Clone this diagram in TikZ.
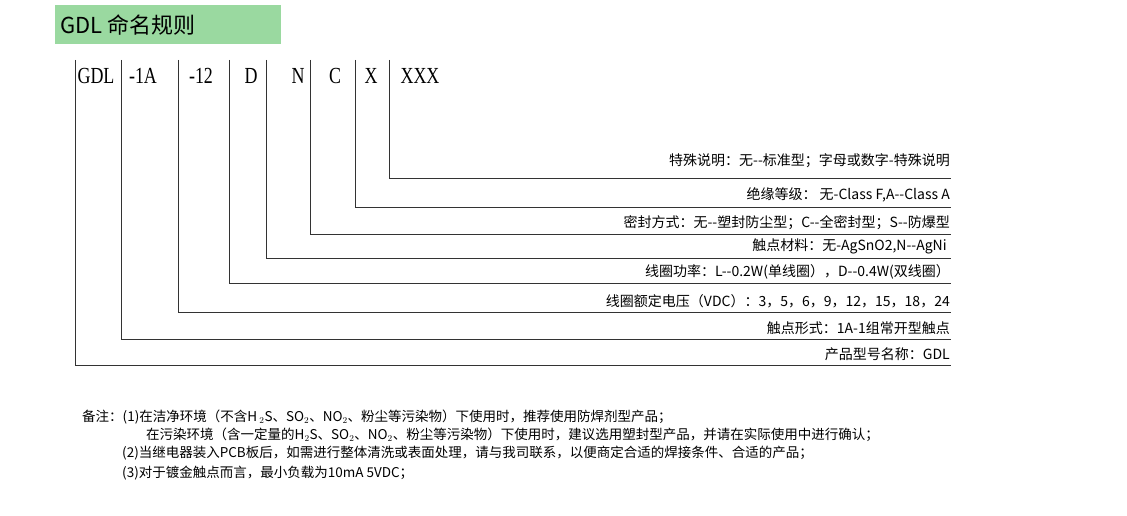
\documentclass[tikz,border=0pt]{standalone}
\usepackage{fontspec}
\setmainfont{Noto Sans CJK SC}
\newfontfamily\cjk{Noto Sans CJK SC}
\newfontfamily\serifl{Liberation Serif}
\definecolor{titlegreen}{HTML}{9AD9A0}
\begin{document}
\begin{tikzpicture}[x=1pt,y=-1pt,
  ln/.style={draw=black!80,line width=0.8pt},
  lab/.style={anchor=south east,inner sep=1pt,font=\cjk\fontsize{14}{15}\selectfont},
  code/.style={anchor=base,inner sep=0pt,font=\serifl\fontsize{23}{23}\selectfont},
  note/.style={anchor=base west,inner sep=0pt,font=\cjk\fontsize{13.5}{14}\selectfont}]
\useasboundingbox (0,0) rectangle (1127,516);
\node[fill=titlegreen,minimum width=226pt,minimum height=39pt,anchor=north west,inner sep=0pt] (title) at (55,5) {};
\node[anchor=west,font=\cjk\fontsize{22}{23}\selectfont] (tt) at (57,25) {GDL 命名规则};
% code letters
\node[code] (c1) at (96,84) {\scalebox{0.78}[1]{GDL}};
\node[code] (c2) at (143,84) {\scalebox{0.78}[1]{-1A}};
\node[code] (c3) at (201,84) {\scalebox{0.78}[1]{-12}};
\node[code] (c4) at (251,84) {\scalebox{0.78}[1]{D}};
\node[code] (c5) at (298,84) {\scalebox{0.78}[1]{N}};
\node[code] (c6) at (335,84) {\scalebox{0.78}[1]{C}};
\node[code] (c7) at (371,84) {\scalebox{0.78}[1]{X}};
\node[code] (c8) at (420,84) {\scalebox{0.78}[1]{XXX}};
% lines
\foreach \n/\x/\y in {a/75/365,b/121/339,c/178/312,d/229/283,e/266/258,f/310/234,g/355/207,h/389/178}{
  \coordinate (t\n) at (\x,60);
  \coordinate (k\n) at (\x,\y);
  \coordinate (r\n) at (951,\y);
  \draw[ln] (t\n) -- (k\n) -- (r\n);
}
\node[lab] (lh) at (rh) [yshift=9pt] {特殊说明：无--标准型；字母或数字-特殊说明};
\node[lab] (lg) at (rg) [yshift=4pt] {绝缘等级： 无-Class F,A--Class A};
\node[lab] (lf) at (rf) [yshift=3pt] {密封方式：无--塑封防尘型；C--全密封型；S--防爆型};
\node[lab] (le) at (re) [yshift=3pt] {触点材料：无-AgSnO2,N--AgNi\ \ };
\node[lab] (ld) at (rd) [yshift=3pt] {线圈功率：L--0.2W(单线圈），D--0.4W(双线圈）};
\node[lab] (lc) at (rc) [yshift=3pt] {线圈额定电压（VDC）：3，5，6，9，12，15，18，24};
\node[lab] (lb) at (rb) [yshift=3pt] {触点形式：1A-1组常开型触点};
\node[lab] (la) at (ra) [yshift=3pt] {产品型号名称：GDL};
% notes
\node[note] (n1) at (82,421) {备注：(1)在洁净环境（不含H\,$_2$S、SO$_2$、NO$_2$、粉尘等污染物）下使用时，推荐使用防焊剂型产品；};
\node[note] (n2) at (146,439) {在污染环境（含一定量的H$_2$S、SO$_2$、NO$_2$、粉尘等污染物）下使用时，建议选用塑封型产品，并请在实际使用中进行确认；};
\node[note] (n3) at (122,457) {(2)当继电器装入PCB板后，如需进行整体清洗或表面处理，请与我司联系，以便商定合适的焊接条件、合适的产品；};
\node[note] (n4) at (122,477) {(3)对于镀金触点而言，最小负载为10mA 5VDC；};
\end{tikzpicture}
\end{document}
